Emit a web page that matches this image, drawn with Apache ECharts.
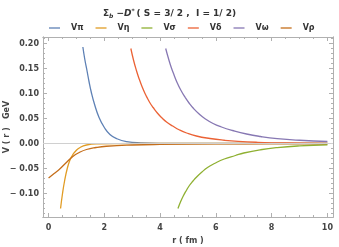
<!DOCTYPE html>
<html><head><meta charset="utf-8">
<script src="https://cdn.jsdelivr.net/npm/echarts@6/dist/echarts.min.js"></script>
<style>html,body{margin:0;padding:0;background:#fff}#c{width:339px;height:247px}</style>
</head><body><div id="c"></div>
<script>
const seriesNames = ['Vπ','Vη','Vσ','Vδ','Vω','Vρ'];
const colors = ['#5E81B5','#E19C24','#8FB032','#EB6235','#8778B3','#C56E1A'];
const xTicks = [0,2,4,6,8,10];
const yTicks = [-0.10,-0.05,0.00,0.05,0.10,0.15,0.20];
const vPi = [[1.23,0.193],[1.3,0.168],[1.38,0.145],[1.45,0.124],[1.53,0.103],[1.65,0.078],[1.81,0.052],[2.0,0.032],[2.2,0.018],[2.45,0.0095],[2.8,0.0038],[3.3,0.0012],[4,0.0003],[10,0]];
const vEta = [[0.43,-0.13],[0.5,-0.10],[0.58,-0.073],[0.67,-0.050],[0.76,-0.034],[0.85,-0.024],[0.94,-0.017],[1.1,-0.009],[1.36,-0.003],[1.8,-0.0008],[2.5,-0.0002],[4,0],[10,0]];
const vSigma = [[4.64,-0.130],[4.73,-0.117],[4.83,-0.105],[4.94,-0.094],[5.05,-0.084],[5.18,-0.075],[5.31,-0.067],[5.5,-0.057],[5.7,-0.048],[5.95,-0.040],[6.3,-0.031],[6.7,-0.024],[7.0,-0.019],[7.6,-0.0125],[8.2,-0.0082],[9.0,-0.0048],[10,-0.0025]];
const vDelta = [[2.95,0.190],[3.05,0.166],[3.15,0.146],[3.25,0.129],[3.35,0.114],[3.45,0.101],[3.55,0.090],[3.65,0.080],[3.75,0.072],[3.9,0.061],[4.05,0.052],[4.23,0.043],[4.45,0.035],[4.7,0.027],[4.95,0.021],[5.3,0.015],[5.79,0.010],[6.3,0.0065],[6.8,0.0042],[7.5,0.0024],[8.5,0.0011],[10,0.0004]];
const vOmega = [[4.2,0.190],[4.3,0.170],[4.4,0.152],[4.5,0.137],[4.6,0.123],[4.75,0.106],[4.9,0.092],[5.05,0.080],[5.2,0.070],[5.4,0.059],[5.6,0.050],[5.9,0.040],[6.2,0.033],[6.6,0.026],[7.1,0.019],[7.6,0.014],[8.2,0.0098],[9.0,0.0065],[10,0.0040]];
const vRho = [[0,-0.069],[0.2,-0.060],[0.4,-0.051],[0.6,-0.040],[0.87,-0.026],[1.1,-0.018],[1.36,-0.012],[1.7,-0.008],[2.07,-0.0055],[3,-0.003],[4,-0.0018],[6,-0.0008],[8,-0.0003],[10,-0.0001]];
const seriesData = [vPi,vEta,vSigma,vDelta,vOmega,vRho];

const xMinor = []; for (let i=0;i<=20;i++) xMinor.push(i*0.5);
const yMinor = []; for (let i=-14;i<=21;i++) yMinor.push(+(i*0.01).toFixed(2));

const frame = '#b0b0b0';
const lblStyle = {color:'#444', fontSize:8, fontWeight:'bold', fontFamily:'DejaVu Sans'};
function xAx(pos, labels, ticks, len){
  return {type:'value', min:-0.2, max:10.2, position:pos,
    axisLine:{show:true, onZero:false, lineStyle:{color:frame, width:1}},
    axisTick:{show:true, inside:true, length:len, customValues:ticks, lineStyle:{color:frame}},
    axisLabel:{show:labels, customValues:xTicks, margin:7, ...lblStyle, formatter:v=>String(v)},
    splitLine:{show:false},
    name: labels ? 'r ( fm )' : '', nameLocation:'middle', nameGap:20, nameMoveOverlap:false,
    nameTextStyle:{color:'#444', fontSize:8, fontWeight:'bold', fontFamily:'DejaVu Sans'}};
}
function yAx(pos, labels, ticks, len){
  return {type:'value', min:-0.147, max:0.213, position:pos,
    axisLine:{show:true, onZero:false, lineStyle:{color:frame, width:1}},
    axisTick:{show:true, inside:true, length:len, customValues:ticks, lineStyle:{color:frame}},
    axisLabel:{show:labels, customValues:yTicks, margin:4, ...lblStyle,
      formatter:v=>{const s=Math.abs(v).toFixed(2); return v< -1e-9 ? '− '+s : s;}},
    splitLine:{show:false},
    name: labels ? 'V ( r )   GeV' : '', nameLocation:'middle', nameGap:32, nameRotate:90, nameMoveOverlap:false,
    nameTextStyle:{color:'#444', fontSize:8, fontWeight:'bold', fontFamily:'DejaVu Sans'}};
}

const chart = echarts.init(document.getElementById('c'), null, {renderer:'canvas'});
const series = seriesNames.map((n,i)=>({
  name:n, type:'line', data:seriesData[i], smooth:0.5, showSymbol:false, symbol:'none',
  xAxisIndex:0, yAxisIndex:0,
  lineStyle:{color:colors[i], width:1.3}, itemStyle:{color:colors[i]},
  markLine: i===0 ? {silent:true, symbol:'none', label:{show:false},
    lineStyle:{color:'#d0d0d0', width:1, type:'solid'}, data:[{yAxis:0}]} : undefined,
  z: 3
}));
chart.setOption({
  animation:false,
  title:{left:'center', top:3, text:'{n|Σ}{sub|b}{n| −}{i|D}{sup|*}{n|( S = 3/ 2 ,  I = 1/ 2)}',
    textStyle:{rich:{
      n:{fontSize:9, fontWeight:'bold', color:'#333', fontFamily:'DejaVu Sans'},
      i:{fontSize:9, fontWeight:'bold', fontStyle:'italic', color:'#333', fontFamily:'DejaVu Sans'},
      sub:{fontSize:6, fontWeight:'bold', fontStyle:'italic', color:'#333', verticalAlign:'bottom', padding:[5,0,0,0], fontFamily:'DejaVu Sans'},
      sup:{fontSize:6, fontWeight:'bold', color:'#333', verticalAlign:'top', padding:[0,2,4,0], fontFamily:'DejaVu Sans'}
    }}},
  legend:{top:19, left:44, data:seriesNames.map((n,i)=>({name:n, icon:'rect', itemStyle:{color:colors[i]}})),
    itemWidth:11, itemHeight:1.3, itemGap:12,
    textStyle:{color:'#333', fontSize:8, fontWeight:'bold', fontFamily:'DejaVu Sans', padding:[0,0,0,6]}},
  grid:{left:43, right:6, top:37, bottom:30, containLabel:false, outerBoundsMode:'none'},
  xAxis:[xAx('bottom',true,xTicks,4), xAx('bottom',false,xMinor,2), xAx('top',false,xTicks,4), xAx('top',false,xMinor,2)],
  yAxis:[yAx('left',true,yTicks,4), yAx('left',false,yMinor,2), yAx('right',false,yTicks,4), yAx('right',false,yMinor,2)],
  series: series
});
</script></body></html>
